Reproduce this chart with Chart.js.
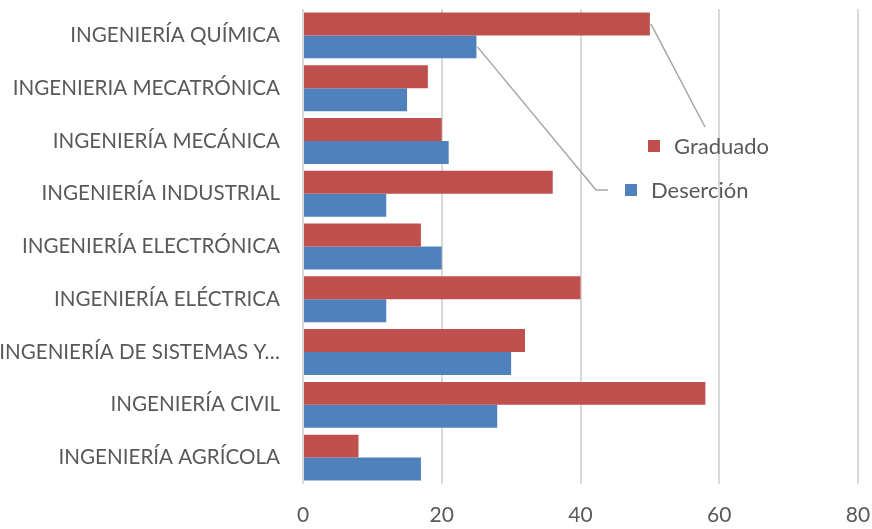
<!DOCTYPE html>
<html>
<head>
<meta charset="utf-8">
<script src="https://cdn.jsdelivr.net/npm/chart.js@4/dist/chart.umd.min.js"></script>
<style>
  html, body { margin: 0; padding: 0; background: #fff; }
  #wrap { width: 872px; height: 529px; }
</style>
</head>
<body>
<div id="wrap"><canvas id="myChart"></canvas></div>
<script>
const carreras = [
    'INGENIERÍA QUÍMICA',
    'INGENIERIA MECATRÓNICA',
    'INGENIERÍA MECÁNICA',
    'INGENIERÍA INDUSTRIAL',
    'INGENIERÍA ELECTRÓNICA',
    'INGENIERÍA ELÉCTRICA',
    'INGENIERÍA DE SISTEMAS Y…',
    'INGENIERÍA CIVIL',
    'INGENIERÍA AGRÍCOLA'
];
const graduado = [50, 18, 20, 36, 17, 40, 32, 58, 8];
const desercion = [25, 15, 21, 12, 20, 12, 30, 28, 17];
const xTicks = [0, 20, 40, 60, 80];

const fontFam = 'Lato, "Open Sans", sans-serif';
const textColor = '#595959';

// legend drawn by hand with leader lines to the top bars
const calloutLegend = {
    id: 'calloutLegend',
    afterDraw(chart) {
        const ctx = chart.ctx;
        const items = [
            { ds: 0, label: 'Graduado', color: '#C0504D', box: [648, 140], text: [674, 147], path: [[705, 127]] },
            { ds: 1, label: 'Deserción', color: '#4F81BD', box: [625, 184], text: [651, 191], path: [[596, 190], [608, 190]] }
        ];
        ctx.save();
        items.forEach(it => {
            const bar = chart.getDatasetMeta(it.ds).data[0];
            ctx.strokeStyle = '#a6a6a6';
            ctx.lineWidth = 1.5;
            ctx.beginPath();
            ctx.moveTo(bar.x + 1, bar.y);
            it.path.forEach(p => ctx.lineTo(p[0], p[1]));
            ctx.stroke();
            ctx.fillStyle = it.color;
            ctx.fillRect(it.box[0], it.box[1], 12, 12);
            ctx.fillStyle = textColor;
            ctx.font = '22px ' + fontFam;
            ctx.textBaseline = 'middle';
            ctx.textAlign = 'left';
            ctx.fillText(it.label, it.text[0], it.text[1]);
        });
        ctx.restore();
    }
};

const ctx = document.getElementById('myChart').getContext('2d');
const myChart = new Chart(ctx, {
    type: 'bar',
    data: {
        labels: carreras,
        datasets: [{
            label: 'Graduado',
            data: graduado,
            backgroundColor: '#C0504D',
            borderWidth: 0
        }, {
            label: 'Deserción',
            data: desercion,
            backgroundColor: '#4F81BD',
            borderWidth: 0
        }]
    },
    options: {
        indexAxis: 'y',
        responsive: true,
        maintainAspectRatio: false,
        animation: false,
        categoryPercentage: 0.87,
        barPercentage: 1.0,
        layout: { padding: { top: 9, right: 14, left: 0, bottom: 0 } },
        plugins: {
            legend: { display: false },
            tooltip: { enabled: false }
        },
        scales: {
            x: {
                min: 0,
                max: 80,
                afterBuildTicks: s => { s.ticks = xTicks.map(v => ({ value: v })); },
                afterFit: s => { s.height = 45; s.paddingLeft = 0; s.paddingRight = 0; },
                border: { display: false },
                grid: { color: '#d9d9d9', lineWidth: 2, drawTicks: false },
                ticks: { color: textColor, font: { family: fontFam, size: 21 }, padding: 19 }
            },
            y: {
                afterFit: s => { s.width = 303; s.paddingTop = 0; s.paddingBottom = 0; },
                border: { display: false },
                grid: { display: false, drawTicks: false },
                ticks: { color: textColor, font: { family: fontFam, size: 20.6 }, padding: 23, autoSkip: false }
            }
        }
    },
    plugins: [calloutLegend]
});
</script>
</body>
</html>
